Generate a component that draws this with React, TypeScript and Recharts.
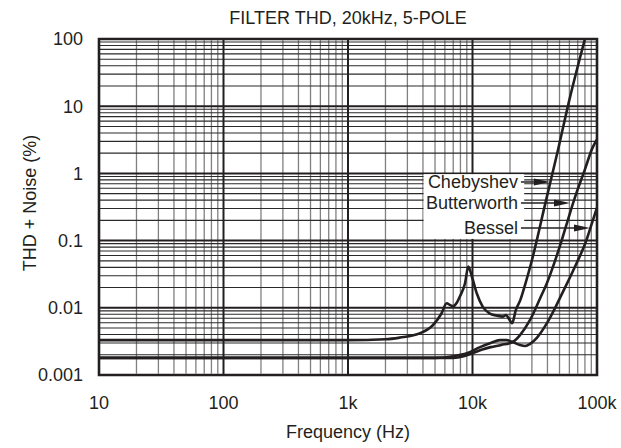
import React from "react";
import { LineChart, Line, XAxis, YAxis, ReferenceLine, ReferenceArea } from "recharts";

const title = "FILTER THD, 20kHz, 5-POLE";
const xLabel = "Frequency (Hz)";
const yLabel = "THD + Noise (%)";

const xTicks = [10, 100, 1000, 10000, 100000];
const xTickLabels = ["10", "100", "1k", "10k", "100k"];
const yTicks = [0.001, 0.01, 0.1, 1, 10, 100];
const yTickLabels = ["0.001", "0.01", "0.1", "1", "10", "100"];
const minorSteps = [2, 3, 4, 5, 6, 7, 8, 9];

// [frequency Hz, THD+N %]
const chebyshev = [
  [10, 0.0033], [100, 0.0033], [1000, 0.0033], [2000, 0.0034], [2600, 0.0036],
  [3800, 0.0042], [4800, 0.0055], [5650, 0.0083], [6200, 0.0117], [6600, 0.011],
  [7000, 0.0106], [7500, 0.012], [7900, 0.0146], [8700, 0.023], [9250, 0.041],
  [9900, 0.029], [10800, 0.0166], [12100, 0.0103], [13800, 0.0082], [15500, 0.0077],
  [17600, 0.0074], [18600, 0.0078], [19600, 0.0069], [20800, 0.0059], [22300, 0.0093],
  [24200, 0.013], [26400, 0.0218], [30000, 0.051], [38200, 0.34], [48600, 2.23],
  [60000, 12.4], [80000, 100],
];
const butterworth = [
  [10, 0.0018], [100, 0.0018], [1000, 0.0018], [5000, 0.0018], [7000, 0.0018],
  [8500, 0.0019], [10000, 0.0021], [12000, 0.0024], [14000, 0.0026], [17000, 0.0028],
  [21000, 0.0031], [24000, 0.0039], [29000, 0.0066], [35000, 0.014], [39500, 0.023],
  [46000, 0.05], [52000, 0.1], [60000, 0.24], [66000, 0.42], [80000, 1.15],
  [92000, 2.4], [100000, 3.2],
];
const bessel = [
  [10, 0.0018], [100, 0.0018], [1000, 0.0018], [5000, 0.0018], [7000, 0.0019],
  [9000, 0.0021], [11500, 0.0026], [14000, 0.003], [16600, 0.0033], [18800, 0.0033],
  [21000, 0.0031], [24000, 0.0028], [26500, 0.0027], [29000, 0.0029], [33000, 0.0036],
  [39600, 0.0059], [46000, 0.0099], [53000, 0.017], [61000, 0.029], [70000, 0.05],
  [82000, 0.1], [90000, 0.17], [100000, 0.31],
];

// white box behind the curve names, and the arrows: [name, fromFreq, toFreq, value]
const labelBox = { f1: 4050, f2: 26000, v1: 0.106, v2: 0.975 };
const arrows: [string, number, number, number][] = [
  ["Chebyshev", 24500, 41900, 0.745],
  ["Butterworth", 24500, 60700, 0.363],
  ["Bessel", 24500, 87900, 0.154],
];

const toPoints = (rows: number[][]) => rows.map(([f, v]) => ({ f, v }));

const xMinor = xTicks.slice(0, -1).flatMap((d) => minorSteps.map((s) => d * s));
const yMinor = yTicks.slice(0, -1).flatMap((d) => minorSteps.map((s) => d * s));

const INK = "#231f20";
const FONT = "'Liberation Sans', Arial, sans-serif";
const FS = 18;

const arrowShape = (label: string) => (props: any) => {
  const { x1, y1, x2, y2 } = props;
  const head = 16;
  return (
    <g>
      <text x={x1 - 3} y={y1} dy="0.36em" textAnchor="end" fontSize={FS} fill={INK} fontFamily={FONT}>
        {label}
      </text>
      <line x1={x1} y1={y1} x2={x2 - head + 2} y2={y2} stroke={INK} strokeWidth={1.5} />
      <polygon points={`${x2},${y2} ${x2 - head},${y2 - 3.5} ${x2 - head},${y2 + 3.5}`} fill={INK} />
    </g>
  );
};

const boxShape = (props: any) => {
  const { x1, y1, x2, y2 } = props;
  return (
    <rect
      x={Math.min(x1, x2)}
      y={Math.min(y1, y2)}
      width={Math.abs(x2 - x1)}
      height={Math.abs(y2 - y1)}
      fill="#fff"
    />
  );
};

const yLabelContent = ({ viewBox }: any) => {
  const cx = viewBox.x + 30;
  const cy = viewBox.y + viewBox.height / 2 - 4;
  return (
    <text
      x={cx}
      y={cy}
      transform={`rotate(-90 ${cx} ${cy})`}
      textAnchor="middle"
      dominantBaseline="central"
      fontSize={FS}
      fill={INK}
      fontFamily={FONT}
    >
      {yLabel}
    </text>
  );
};

const xLabelContent = ({ viewBox }: any) => (
  <text
    x={viewBox.x + viewBox.width / 2}
    y={viewBox.y + 57}
    textAnchor="middle"
    dominantBaseline="central"
    fontSize={FS}
    fill={INK}
    fontFamily={FONT}
  >
    {xLabel}
  </text>
);

export default function App() {
  return (
    <div style={{ position: "absolute", left: 0, top: 0, width: 621, height: 448, background: "#fff", fontFamily: FONT }}>
      <div style={{ position: "absolute", left: 99, width: 498, top: 8, textAlign: "center", fontSize: FS, color: INK, lineHeight: "21px" }}>
        {title}
      </div>
      <LineChart width={621} height={448} margin={{ top: 39, right: 24, bottom: 0, left: 0 }}>
        <XAxis
          dataKey="f"
          type="number"
          scale="log"
          domain={[10, 100000]}
          ticks={xTicks}
          tickFormatter={(v: number) => xTickLabels[xTicks.indexOf(v)]}
          allowDataOverflow
          axisLine={false}
          tickLine={false}
          tickSize={0}
          tickMargin={21}
          height={73}
          tick={{ fill: INK, fontSize: FS, fontFamily: FONT }}
          label={{ content: xLabelContent }}
        />
        <YAxis
          dataKey="v"
          type="number"
          scale="log"
          domain={[0.001, 100]}
          ticks={yTicks}
          tickFormatter={(v: number) => yTickLabels[yTicks.indexOf(v)]}
          allowDataOverflow
          axisLine={false}
          tickLine={false}
          tickSize={0}
          tickMargin={16}
          width={99}
          tick={{ fill: INK, fontSize: FS, fontFamily: FONT }}
          label={{ content: yLabelContent }}
        />
        {xMinor.map((x) => (
          <ReferenceLine key={`xm${x}`} x={x} stroke="#808080" strokeWidth={1.3} />
        ))}
        {yMinor.map((y) => (
          <ReferenceLine key={`ym${y}`} y={y} stroke="#2a2a2a" strokeWidth={1.1} />
        ))}
        {xTicks.map((x) => (
          <ReferenceLine key={`xd${x}`} x={x} stroke={INK} strokeWidth={2} />
        ))}
        {yTicks.map((y) => (
          <ReferenceLine key={`yd${y}`} y={y} stroke={INK} strokeWidth={2} />
        ))}
        <ReferenceLine
          segment={[{ x: labelBox.f1, y: labelBox.v1 }, { x: labelBox.f2, y: labelBox.v2 }]}
          shape={boxShape}
        />
        {arrows.map(([label, f1, f2, v]) => (
          <ReferenceLine
            key={label}
            segment={[{ x: f1, y: v }, { x: f2, y: v }]}
            shape={arrowShape(label)}
          />
        ))}
        <Line data={toPoints(chebyshev)} dataKey="v" type="monotone" stroke={INK} strokeWidth={2.6} dot={false} isAnimationActive={false} />
        <Line data={toPoints(butterworth)} dataKey="v" type="monotone" stroke={INK} strokeWidth={2.6} dot={false} isAnimationActive={false} />
        <Line data={toPoints(bessel)} dataKey="v" type="monotone" stroke={INK} strokeWidth={2.6} dot={false} isAnimationActive={false} />
        <ReferenceArea x1={10} x2={100000} y1={0.001} y2={100} fill="none" stroke={INK} strokeWidth={2.6} />
      </LineChart>
    </div>
  );
}
